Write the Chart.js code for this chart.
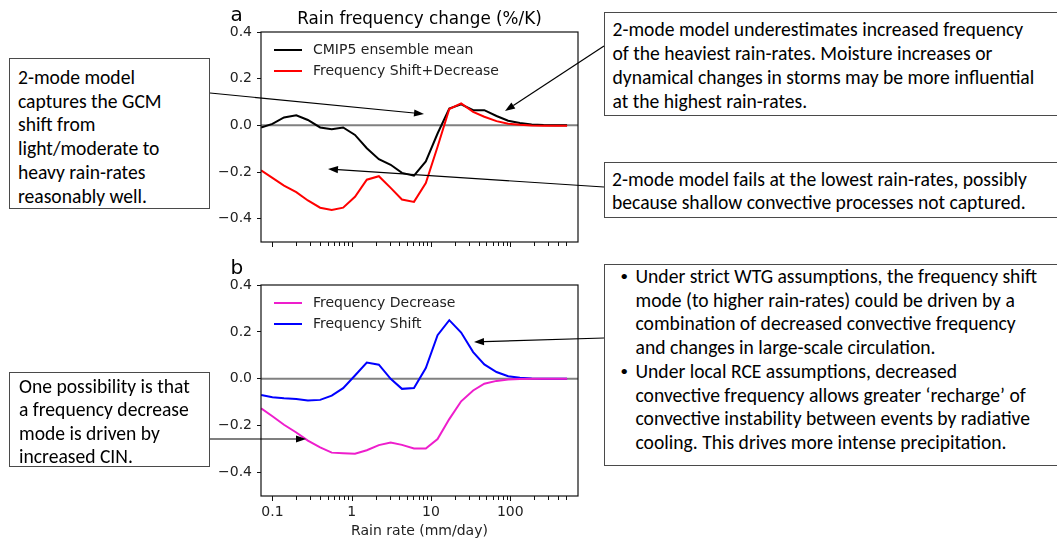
<!DOCTYPE html>
<html>
<head>
<meta charset="utf-8">
<script src="https://cdn.jsdelivr.net/npm/chart.js@4.4.1/dist/chart.umd.min.js"></script>
<style>
  body { margin: 0; background: #fff; width: 1057px; height: 540px; overflow: hidden; position: relative; }
  .panel { position: absolute; left: 200px; width: 400px; }
  #panelA { top: 0; height: 262px; }
  #panelB { top: 256px; height: 284px; }
  .note {
    position: absolute; box-sizing: border-box; background: #fff; color: #000;
    border: 1.5px solid #4a4a4a; white-space: nowrap;
    font-family: Carlito, Calibri, Lato, sans-serif; font-size: 19.6px;
  }
  #note1 { left: 9px; top: 58px; width: 201px; height: 151px; padding: 7px 0 0 8px; line-height: 23.7px; }
  #note2 { left: 604px; top: 12px; width: 470px; height: 104px; padding: 4px 0 0 7.5px; line-height: 24px; }
  #note3 { left: 604px; top: 162px; width: 470px; height: 56px; padding: 5px 0 0 7px; line-height: 23px; }
  #note4 { left: 604px; top: 264px; width: 470px; height: 202px; padding: 0 0 0 30.5px; line-height: 23.7px; }
  #note5 { left: 9px; top: 372px; width: 201px; height: 95px; padding: 2px 0 0 9px; line-height: 23.3px; }
  .li { position: relative; }
  .li::before { content: '\2022'; position: absolute; left: -15px; font-size: 15px; }
  #arrows { position: absolute; left: 0; top: 0; pointer-events: none; }
</style>
</head>
<body>
<div class="panel" id="panelA"><canvas id="chartA"></canvas></div>
<div class="panel" id="panelB"><canvas id="chartB"></canvas></div>

<div class="note" id="note1">2-mode model<br>captures the GCM<br>shift from<br>light/moderate to<br>heavy rain-rates<br>reasonably well.</div>
<div class="note" id="note2">2-mode model underestimates increased frequency<br>of the heaviest rain-rates. Moisture increases or<br>dynamical changes in storms may be more influential<br>at the highest rain-rates.</div>
<div class="note" id="note3">2-mode model fails at the lowest rain-rates, possibly<br>because shallow convective processes not captured.</div>
<div class="note" id="note4">
  <div class="li">Under strict WTG assumptions, the frequency shift<br>mode (to higher rain-rates) could be driven by a<br>combination of decreased convective frequency<br>and changes in large-scale circulation.</div>
  <div class="li">Under local RCE assumptions, decreased<br>convective frequency allows greater ‘recharge’ of<br>convective instability between events by radiative<br>cooling. This drives more intense precipitation.</div>
</div>
<div class="note" id="note5">One possibility is that<br>a frequency decrease<br>mode is driven by<br>increased CIN.</div>

<svg id="arrows" width="1057" height="540"></svg>

<script>
// Rain-rate bins (mm/day) shared by all curves
const rainRate = [0.072, 0.10, 0.14, 0.20, 0.28, 0.40, 0.56, 0.78, 1.1, 1.55, 2.2, 3.1, 4.3, 6.1,
                  8.6, 12.1, 17, 24, 34, 47, 67, 94, 132, 186, 262, 369, 520];

// Panel a
const cmip5Mean = [-0.009, 0.006, 0.034, 0.043, 0.023, -0.009, -0.017, -0.009, -0.041, -0.098, -0.145, -0.169, -0.204, -0.216,
                   -0.155, -0.035, 0.072, 0.09, 0.065, 0.065, 0.04, 0.02, 0.01, 0.004, 0.001, 0, 0];
const shiftPlusDecrease = [-0.193, -0.225, -0.258, -0.286, -0.322, -0.353, -0.363, -0.353, -0.306, -0.233, -0.218, -0.268, -0.318, -0.328,
                           -0.247, -0.092, 0.07, 0.094, 0.058, 0.037, 0.018, 0.007, 0.002, -0.001, -0.002, -0.002, -0.002];

// Panel b
const freqDecrease = [-0.126, -0.16, -0.196, -0.229, -0.264, -0.293, -0.315, -0.318, -0.32, -0.305, -0.283, -0.272, -0.282, -0.297,
                      -0.297, -0.257, -0.172, -0.096, -0.05, -0.021, -0.009, -0.003, -0.001, 0, 0, 0, 0];
const freqShift = [-0.069, -0.079, -0.083, -0.086, -0.093, -0.09, -0.072, -0.04, 0.014, 0.069, 0.06, 0.0, -0.043, -0.039,
                   0.046, 0.186, 0.25, 0.197, 0.114, 0.061, 0.029, 0.011, 0.004, 0.001, 0, 0, 0];

// Axis ticks
const yTicks = [-0.4, -0.2, 0, 0.2, 0.4];
const xTicks = [0.1, 1, 10, 100];
const xMinorTicks = [0.2, 0.3, 0.4, 0.5, 0.6, 0.7, 0.8, 0.9, 2, 3, 4, 5, 6, 7, 8, 9,
                     20, 30, 40, 50, 60, 70, 80, 90, 200, 300, 400, 500];

const FONT = '"DejaVu Sans", sans-serif';

const toPoints = (vals) => rainRate.map((x, i) => ({ x: x, y: vals[i] }));

// zero line, frame, x tick marks, legend, title and panel letter
const panelDecor = {
    id: 'panelDecor',
    beforeDatasetsDraw(chart) {
        const { ctx, chartArea: a, scales: { y } } = chart;
        const y0 = y.getPixelForValue(0);
        ctx.save();
        ctx.strokeStyle = '#808080';
        ctx.lineWidth = 2;
        ctx.beginPath();
        ctx.moveTo(a.left, y0);
        ctx.lineTo(a.right, y0);
        ctx.stroke();
        ctx.restore();
    },
    afterDraw(chart, args, opts) {
        const { ctx, chartArea: a, scales: { x } } = chart;
        ctx.save();
        ctx.strokeStyle = '#111';
        ctx.lineWidth = 1.2;
        ctx.strokeRect(a.left, a.top, a.right - a.left, a.bottom - a.top);

        ctx.lineWidth = 1;
        xTicks.concat(xMinorTicks).forEach(v => {
            const px = Math.round(x.getPixelForValue(v)) + 0.5;
            const len = xTicks.includes(v) ? 5 : 4;
            ctx.beginPath();
            ctx.moveTo(px, a.bottom);
            ctx.lineTo(px, a.bottom + len);
            ctx.stroke();
        });

        // legend
        ctx.font = '14px ' + FONT;
        ctx.textBaseline = 'middle';
        ctx.fillStyle = '#222';
        chart.data.datasets.forEach((ds, i) => {
            const ly = a.top + 18 + i * 21;
            ctx.strokeStyle = ds.borderColor;
            ctx.lineWidth = 2;
            ctx.beginPath();
            ctx.moveTo(a.left + 13, ly);
            ctx.lineTo(a.left + 41, ly);
            ctx.stroke();
            ctx.fillText(ds.label, a.left + 52, ly);
        });

        ctx.fillStyle = '#000';
        ctx.textBaseline = 'alphabetic';
        if (opts.title) {
            ctx.font = '16.8px ' + FONT;
            ctx.textAlign = 'center';
            ctx.fillText(opts.title, (a.left + a.right) / 2, a.top - 8.5);
        }
        ctx.font = '20px ' + FONT;
        ctx.textAlign = 'left';
        ctx.fillText(opts.letter, a.left - 30.5, a.top - 11);
        ctx.restore();
    }
};

function makePanel(canvasId, datasets, cfg) {
    return new Chart(document.getElementById(canvasId), {
        type: 'line',
        data: { datasets: datasets },
        plugins: [panelDecor],
        options: {
            responsive: true,
            maintainAspectRatio: false,
            animation: false,
            layout: { padding: { top: cfg.padTop, right: 22, left: 0, bottom: 0 } },
            elements: { point: { radius: 0 }, line: { tension: 0, borderWidth: 2 } },
            plugins: {
                legend: { display: false },
                tooltip: { enabled: false },
                panelDecor: { letter: cfg.letter, title: cfg.title }
            },
            scales: {
                x: {
                    type: 'logarithmic',
                    min: 0.0718,
                    max: 714,
                    afterBuildTicks: s => { s.ticks = xTicks.map(v => ({ value: v })); },
                    afterFit: s => { s.height = cfg.xHeight; },
                    grid: { display: false, drawTicks: false },
                    border: { display: false },
                    ticks: {
                        display: cfg.xLabels,
                        autoSkip: false,
                        maxRotation: 0,
                        padding: 8,
                        color: '#222',
                        font: { family: FONT, size: 14 },
                        callback: v => String(v)
                    },
                    title: {
                        display: cfg.xLabels,
                        text: 'Rain rate (mm/day)',
                        color: '#222',
                        padding: 0,
                        font: { family: FONT, size: 14 }
                    }
                },
                y: {
                    min: -0.5,
                    max: 0.4,
                    afterBuildTicks: s => { s.ticks = yTicks.map(v => ({ value: v })); },
                    afterFit: s => { s.width = 61; },
                    grid: { drawOnChartArea: false, tickLength: 4, color: '#111' },
                    border: { display: false },
                    ticks: {
                        padding: 5,
                        color: '#222',
                        font: { family: FONT, size: 14 },
                        callback: v => v.toFixed(1).replace('-', '\u2212')
                    }
                }
            }
        }
    });
}

makePanel('chartA', [
    { label: 'CMIP5 ensemble mean', data: toPoints(cmip5Mean), borderColor: '#000000', order: 1 },
    { label: 'Frequency Shift+Decrease', data: toPoints(shiftPlusDecrease), borderColor: '#ff0000', order: 0 }
], { padTop: 32, xHeight: 20, xLabels: false, letter: 'a', title: 'Rain frequency change (%/K)' });

makePanel('chartB', [
    { label: 'Frequency Decrease', data: toPoints(freqDecrease), borderColor: '#ee1ecc' },
    { label: 'Frequency Shift', data: toPoints(freqShift), borderColor: '#0000ff' }
], { padTop: 29, xHeight: 44, xLabels: true, letter: 'b', title: '' });

// annotation arrows: [fromX, fromY, tipX, tipY]
const arrows = [
    [210, 93, 424, 114],
    [604, 46, 505, 111],
    [604, 187, 328, 169],
    [604, 338, 474, 342],
    [210, 439, 306, 439]
];
const svg = document.getElementById('arrows');
const NS = 'http://www.w3.org/2000/svg';
arrows.forEach(([x1, y1, x2, y2]) => {
    const len = Math.hypot(x2 - x1, y2 - y1);
    const ux = (x2 - x1) / len, uy = (y2 - y1) / len;
    const head = 10, half = 3.6;
    const bx = x2 - ux * head, by = y2 - uy * head;
    const line = document.createElementNS(NS, 'line');
    line.setAttribute('x1', x1); line.setAttribute('y1', y1);
    line.setAttribute('x2', bx); line.setAttribute('y2', by);
    line.setAttribute('stroke', '#000'); line.setAttribute('stroke-width', '1.2');
    svg.appendChild(line);
    const poly = document.createElementNS(NS, 'polygon');
    poly.setAttribute('points', [
        x2 + ',' + y2,
        (bx - uy * half) + ',' + (by + ux * half),
        (bx + uy * half) + ',' + (by - ux * half)
    ].join(' '));
    poly.setAttribute('fill', '#000');
    svg.appendChild(poly);
});
</script>
</body>
</html>
